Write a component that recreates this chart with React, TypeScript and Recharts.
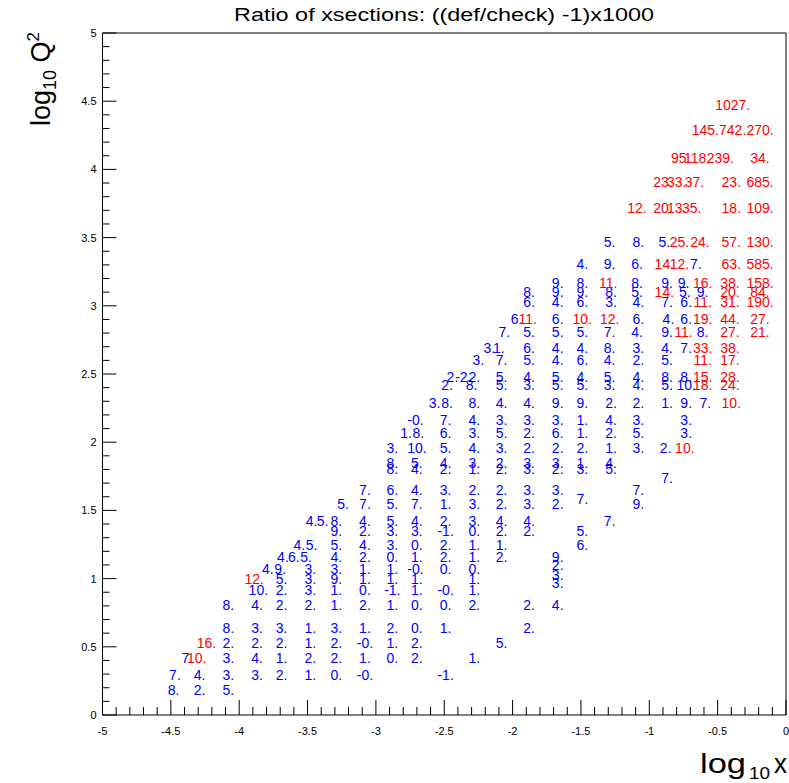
import React from "react";
import { ScatterChart, Scatter, XAxis, YAxis, ReferenceArea } from "recharts";

// one printed cell: [log10 x, printed value, 1 when drawn in red]
type Cell = [number, string, number?];

const q447: Cell[] = [[-0.39, "1027.", 1]];
const q429: Cell[] = [[-0.59, "145.", 1], [-0.39, "742.", 1], [-0.19, "270.", 1]];
const q408: Cell[] = [[-0.77, "95.", 1], [-0.65, "118.", 1], [-0.48, "239.", 1], [-0.19, "34.", 1]];
const q391: Cell[] = [[-0.9, "23.", 1], [-0.8, "33.", 1], [-0.67, "37.", 1], [-0.4, "23.", 1], [-0.19, "685.", 1]];
const q372: Cell[] = [[-1.09, "12.", 1], [-0.9, "20.", 1], [-0.8, "13.", 1], [-0.69, "35.", 1], [-0.4, "18.", 1], [-0.19, "109.", 1]];
const q347: Cell[] = [[-1.29, "5."], [-1.08, "8."], [-0.89, "5."], [-0.78, "25.", 1], [-0.63, "24.", 1], [-0.4, "57.", 1], [-0.19, "130.", 1]];
const q331: Cell[] = [[-1.49, "4."], [-1.29, "9."], [-1.09, "6."], [-0.89, "14.", 1], [-0.78, "12.", 1], [-0.66, "7."], [-0.4, "63.", 1], [-0.19, "585.", 1]];
const q317: Cell[] = [[-1.67, "9."], [-1.49, "8."], [-1.3, "11.", 1], [-1.09, "8."], [-0.87, "9."], [-0.75, "9."], [-0.61, "16.", 1], [-0.41, "38.", 1], [-0.19, "158.", 1]];
const q310: Cell[] = [[-1.88, "8."], [-1.67, "9."], [-1.49, "9."], [-1.28, "8."], [-1.09, "5."], [-0.89, "14.", 1], [-0.74, "5."], [-0.61, "9."], [-0.41, "20.", 1], [-0.19, "84.", 1]];
const q303: Cell[] = [[-1.88, "6."], [-1.67, "4."], [-1.49, "6."], [-1.28, "3."], [-1.08, "4."], [-0.87, "7."], [-0.73, "6."], [-0.61, "11.", 1], [-0.41, "31.", 1], [-0.19, "190.", 1]];
const q290: Cell[] = [[-1.97, "6."], [-1.89, "11.", 1], [-1.67, "6."], [-1.49, "10.", 1], [-1.29, "12.", 1], [-1.08, "6."], [-0.86, "4."], [-0.73, "6."], [-0.61, "19.", 1], [-0.41, "44.", 1], [-0.19, "27.", 1]];
const q281: Cell[] = [[-2.06, "7."], [-1.88, "5."], [-1.67, "5."], [-1.49, "5."], [-1.29, "7."], [-1.09, "4."], [-0.87, "9."], [-0.75, "11.", 1], [-0.61, "8."], [-0.41, "27.", 1], [-0.19, "21.", 1]];
const q269: Cell[] = [[-2.17, "3."], [-2.1, "1."], [-1.88, "6."], [-1.67, "4."], [-1.49, "4."], [-1.29, "8."], [-1.08, "3."], [-0.87, "4."], [-0.73, "7."], [-0.61, "33.", 1], [-0.41, "38.", 1]];
const q260: Cell[] = [[-2.25, "3."], [-2.08, "7."], [-1.88, "5."], [-1.67, "4."], [-1.49, "6."], [-1.29, "4."], [-1.08, "2."], [-0.87, "5."], [-0.61, "11.", 1], [-0.41, "17.", 1]];
const q248: Cell[] = [[-2.44, "2."], [-2.36, "-2."], [-2.28, "2."], [-2.08, "5."], [-1.88, "4."], [-1.67, "5."], [-1.49, "4."], [-1.29, "5."], [-1.08, "4."], [-0.87, "8."], [-0.73, "8."], [-0.61, "15.", 1], [-0.41, "28.", 1]];
const q242: Cell[] = [[-2.48, "2."], [-2.3, "8."], [-2.08, "5."], [-1.88, "3."], [-1.67, "5."], [-1.49, "5."], [-1.29, "3."], [-1.08, "4."], [-0.87, "5."], [-0.73, "10."], [-0.61, "18.", 1], [-0.41, "24.", 1]];
const q229: Cell[] = [[-2.57, "3."], [-2.48, "8."], [-2.28, "8."], [-2.08, "4."], [-1.88, "4."], [-1.67, "9."], [-1.49, "9."], [-1.28, "2."], [-1.08, "2."], [-0.87, "1."], [-0.73, "9."], [-0.59, "7."], [-0.4, "10.", 1]];
const q216: Cell[] = [[-2.71, "-0."], [-2.49, "7."], [-2.28, "4."], [-2.08, "3."], [-1.88, "3."], [-1.67, "3."], [-1.49, "1."], [-1.28, "4."], [-1.08, "3."], [-0.73, "3."]];
const q207: Cell[] = [[-2.78, "1."], [-2.69, "8."], [-2.49, "6."], [-2.28, "3."], [-2.08, "5."], [-1.88, "2."], [-1.67, "6."], [-1.49, "1."], [-1.28, "2."], [-1.08, "5."], [-0.73, "3."]];
const q196: Cell[] = [[-2.88, "3."], [-2.7, "10."], [-2.49, "5."], [-2.28, "4."], [-2.08, "3."], [-1.88, "2."], [-1.67, "2."], [-1.49, "2."], [-1.28, "1."], [-1.08, "3."], [-0.88, "2."], [-0.74, "10.", 1]];
const q185: Cell[] = [[-2.88, "8."], [-2.7, "5."], [-2.49, "4."], [-2.28, "3."], [-2.08, "2."], [-1.88, "3."], [-1.67, "3."], [-1.49, "1."], [-1.28, "4."]];
const q180: Cell[] = [[-2.88, "8."], [-2.7, "4."], [-2.49, "2."], [-2.28, "1."], [-2.08, "2."], [-1.88, "3."], [-1.67, "2."], [-1.49, "3."], [-1.28, "5."]];
const q174: Cell[] = [[-0.87, "7."]];
const q165: Cell[] = [[-3.08, "7."], [-2.88, "6."], [-2.7, "4."], [-2.49, "3."], [-2.28, "2."], [-2.08, "2."], [-1.88, "3."], [-1.67, "3."], [-1.08, "7."]];
const q158: Cell[] = [[-1.49, "7."]];
const q155: Cell[] = [[-3.24, "5."], [-3.08, "7."], [-2.88, "5."], [-2.7, "7."], [-2.49, "1."], [-2.28, "3."], [-2.08, "2."], [-1.88, "3."], [-1.67, "2."], [-1.08, "9."]];
const q142: Cell[] = [[-3.47, "4."], [-3.39, "5."], [-3.29, "8."], [-3.08, "4."], [-2.88, "5."], [-2.7, "4."], [-2.49, "2."], [-2.28, "3."], [-2.08, "4."], [-1.88, "4."], [-1.29, "7."]];
const q135: Cell[] = [[-3.29, "9."], [-3.08, "2."], [-2.88, "3."], [-2.7, "3."], [-2.49, "-1."], [-2.28, "0."], [-2.08, "2."], [-1.88, "2."], [-1.49, "5."]];
const q125: Cell[] = [[-3.56, "4."], [-3.47, "5."], [-3.29, "5."], [-3.08, "4."], [-2.88, "3."], [-2.7, "0."], [-2.49, "2."], [-2.28, "1."], [-2.08, "1."], [-1.49, "6."]];
const q116: Cell[] = [[-3.68, "4."], [-3.6, "6."], [-3.51, "5."], [-3.29, "4."], [-3.08, "2."], [-2.88, "0."], [-2.7, "1."], [-2.49, "2."], [-2.28, "1."], [-2.08, "2."], [-1.67, "9."]];
const q110: Cell[] = [[-1.67, "2."]];
const q107: Cell[] = [[-3.79, "4."], [-3.7, "9."], [-3.48, "3."], [-3.29, "3."], [-3.08, "1."], [-2.88, "1."], [-2.71, "-0."], [-2.49, "0."], [-2.28, "0."]];
const q103: Cell[] = [[-1.67, "3."]];
const q100: Cell[] = [[-3.89, "12.", 1], [-3.69, "5."], [-3.48, "3."], [-3.29, "9."], [-3.08, "1."], [-2.88, "1."], [-2.7, "1."], [-2.28, "1."]];
const q097: Cell[] = [[-1.67, "3."]];
const q092: Cell[] = [[-3.86, "10."], [-3.69, "2."], [-3.48, "3."], [-3.29, "1."], [-3.08, "0."], [-2.88, "-1."], [-2.7, "1."], [-2.49, "-0."], [-2.28, "1."]];
const q081: Cell[] = [[-4.08, "8."], [-3.87, "4."], [-3.69, "2."], [-3.48, "2."], [-3.29, "1."], [-3.08, "2."], [-2.88, "1."], [-2.7, "0."], [-2.49, "0."], [-2.28, "2."], [-1.88, "2."], [-1.67, "4."]];
const q064: Cell[] = [[-4.08, "8."], [-3.87, "3."], [-3.69, "3."], [-3.48, "1."], [-3.29, "3."], [-3.08, "1."], [-2.88, "2."], [-2.7, "0."], [-2.49, "1."], [-1.88, "2."]];
const q053: Cell[] = [[-4.24, "16.", 1], [-4.08, "2."], [-3.87, "2."], [-3.69, "2."], [-3.48, "1."], [-3.29, "2."], [-3.08, "-0."], [-2.88, "1."], [-2.7, "2."], [-2.08, "5."]];
const q042: Cell[] = [[-4.38, "7."], [-4.31, "10.", 1], [-4.08, "3."], [-3.87, "4."], [-3.69, "1."], [-3.48, "2."], [-3.29, "2."], [-3.08, "1."], [-2.88, "0."], [-2.7, "2."], [-2.28, "1."]];
const q029: Cell[] = [[-4.47, "7."], [-4.29, "4."], [-4.08, "3."], [-3.87, "3."], [-3.69, "2."], [-3.48, "1."], [-3.29, "0."], [-3.08, "-0."], [-2.49, "-1."]];
const q018: Cell[] = [[-4.48, "8."], [-4.29, "2."], [-4.08, "5."]];

// log10 Q2 of each printed row
const rows: [number, Cell[]][] = [
  [4.47, q447], [4.29, q429], [4.08, q408], [3.91, q391], [3.72, q372], [3.47, q347],
  [3.31, q331], [3.17, q317], [3.1, q310], [3.03, q303], [2.9, q290], [2.81, q281],
  [2.69, q269], [2.6, q260], [2.48, q248], [2.42, q242], [2.29, q229], [2.16, q216],
  [2.07, q207], [1.96, q196], [1.85, q185], [1.8, q180], [1.74, q174], [1.65, q165],
  [1.58, q158], [1.55, q155], [1.42, q142], [1.35, q135], [1.25, q125], [1.16, q116],
  [1.1, q110], [1.07, q107], [1.03, q103], [1.0, q100], [0.97, q097], [0.92, q092],
  [0.81, q081], [0.64, q064], [0.53, q053], [0.42, q042], [0.29, q029], [0.18, q018],
];

const xTickLabels = ["-5", "-4.5", "-4", "-3.5", "-3", "-2.5", "-2", "-1.5", "-1", "-0.5", "0"];
const yTickLabels = ["0", "0.5", "1", "1.5", "2", "2.5", "3", "3.5", "4", "4.5", "5"];

const xTicks = Array.from({ length: 51 }, (_, i) => Math.round((-5 + i * 0.1) * 10) / 10);
const yTicks = Array.from({ length: 51 }, (_, i) => Math.round(i * 0.1 * 10) / 10);

const points = rows
  .flatMap(([y, cells]) => cells.map(([x, t, r]) => ({ x, y, t, red: !!r })))
  .sort((a, b) => Number(a.red) - Number(b.red));

const FONT = "'Liberation Sans', Arial, Helvetica, sans-serif";

const isMajor = (v: number) => Math.abs(v * 2 - Math.round(v * 2)) < 1e-6;

const XTick = (props: any) => {
  const { x, y, payload } = props;
  const v = payload.value;
  const major = isMajor(v);
  return (
    <g>
      <line x1={x} x2={x} y1={y} y2={y - (major ? 15 : 8)} stroke="#000" strokeWidth={1} />
      {major && (
        <text x={x} y={y + 20} textAnchor="middle" fontSize={11} fontFamily={FONT} fill="#000">
          {xTickLabels[Math.round((v + 5) * 2)]}
        </text>
      )}
    </g>
  );
};

const YTick = (props: any) => {
  const { x, y, payload } = props;
  const v = payload.value;
  const major = isMajor(v);
  return (
    <g>
      <line x1={x} x2={x + (major ? 14 : 7)} y1={y} y2={y} stroke="#000" strokeWidth={1} />
      {major && (
        <text x={x - 6} y={y} textAnchor="end" dominantBaseline="central" fontSize={11} fontFamily={FONT} fill="#000">
          {yTickLabels[Math.round(v * 2)]}
        </text>
      )}
    </g>
  );
};

const CellText = (props: any) => {
  const { cx, cy, payload } = props;
  return (
    <text
      x={cx}
      y={cy}
      textAnchor="middle"
      dominantBaseline="central"
      fontSize={14}
      fontFamily={FONT}
      fill={payload.red ? "#ff0000" : "#0000ff"}
    >
      {payload.t}
    </text>
  );
};

export default function App() {
  return (
    <div style={{ position: "absolute", left: 0, top: 0, width: 789, height: 783, background: "#fff" }}>
      <ScatterChart width={789} height={783} margin={{ top: 33, right: 3, bottom: 0, left: 0 }}>
        <XAxis
          type="number"
          dataKey="x"
          domain={[-5, 0]}
          ticks={xTicks}
          interval={0}
          height={68}
          tickSize={0}
          tickMargin={0}
          axisLine={false}
          tickLine={false}
          tick={XTick}
          allowDataOverflow
        />
        <YAxis
          type="number"
          dataKey="y"
          domain={[0, 5]}
          ticks={yTicks}
          interval={0}
          width={102.5}
          tickSize={0}
          tickMargin={0}
          axisLine={false}
          tickLine={false}
          tick={YTick}
          allowDataOverflow
        />
        <ReferenceArea x1={-5} x2={0} y1={0} y2={5} fill="none" fillOpacity={0} stroke="#000" strokeWidth={1} ifOverflow="visible" />
        <Scatter data={points} shape={CellText} isAnimationActive={false} />
      </ScatterChart>
      <svg width={789} height={783} style={{ position: "absolute", left: 0, top: 0, pointerEvents: "none" }}>
        <text x={234} y={21} fontSize={18} fontFamily={FONT} textLength={420} lengthAdjust="spacingAndGlyphs" fill="#000">
          Ratio of xsections: ((def/check) -1)x1000
        </text>
        <text transform="translate(50,126) rotate(-90)" fontSize={27} fontFamily={FONT} fill="#000">
          log
          <tspan fontSize={18} dy={6}>10</tspan>
          <tspan dy={-6}> Q</tspan>
          <tspan fontSize={17} dy={-11}>2</tspan>
        </text>
        <text x={700} y={773} fontSize={28} fontFamily={FONT} textLength={46} lengthAdjust="spacingAndGlyphs" fill="#000">
          log
        </text>
        <text x={749} y={779} fontSize={16} fontFamily={FONT} textLength={21} lengthAdjust="spacingAndGlyphs" fill="#000">
          10
        </text>
        <text x={774} y={773} fontSize={28} fontFamily={FONT} textLength={13} lengthAdjust="spacingAndGlyphs" fill="#000">
          x
        </text>
      </svg>
    </div>
  );
}
